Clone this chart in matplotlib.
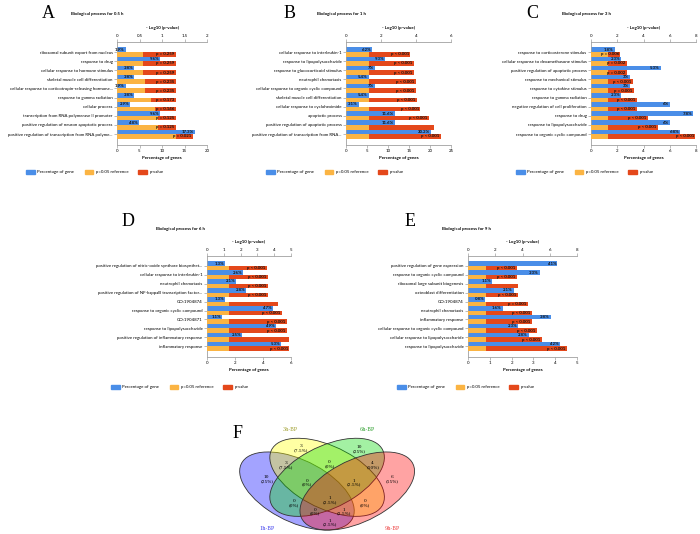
import numpy as np
import matplotlib
matplotlib.use("Agg")
import matplotlib.pyplot as plt
from matplotlib.patches import Ellipse, Patch

plt.rcParams['font.family'] = ['Lato', 'DejaVu Sans']

# ---------------- data ----------------
cats_a = ["ribosomal subunit export from nucleus", "response to drug",
          "cellular response to hormone stimulus", "skeletal muscle cell differentiation",
          "cellular response to corticotropin-releasing hormone...", "response to gamma radiation",
          "cellular process", "transcription from RNA polymerase II promoter",
          "positive regulation of neuron apoptotic process",
          "positive regulation of transcription from RNA polyme..."]
pct_a = [1.9, 9.6, 3.8, 3.8, 1.9, 3.8, 2.9, 9.6, 4.8, 17.3]
logp_a = [0.587, 0.587, 0.587, 0.629, 0.629, 0.762, 0.836, 0.903, 0.903, 1.678]
plab_a = ["p = 0.259", "p = 0.259", "p = 0.259", "p = 0.235", "p = 0.235",
          "p = 0.173", "p = 0.146", "p = 0.125", "p = 0.125", "p = 0.021"]

cats_b = ["cellular response to interleukin-1", "response to lipopolysaccharide",
          "response to glucocorticoid stimulus", "neutrophil chemotaxis",
          "cellular response to organic cyclic compound", "skeletal muscle cell differentiation",
          "cellular response to cycloheximide", "apoptotic process",
          "positive regulation of apoptotic process",
          "positive regulation of transcription from RNA..."]
pct_b = [6.2, 9.3, 7, 5.4, 7, 5.4, 3.1, 11.6, 11.6, 20.2]
logp_b = [3.68, 3.89, 3.89, 3.98, 3.98, 4.06, 4.25, 4.72, 5.05, 5.43]
plab_b = ["p < 0.001"] * 8 + ["", "p < 0.001"]

cats_c = ["response to corticosterone stimulus", "cellular response to dexamethasone stimulus",
          "positive regulation of apoptotic process", "response to mechanical stimulus",
          "response to cytokine stimulus", "response to gamma radiation",
          "negative regulation of cell proliferation", "response to drug",
          "response to lipopolysaccharide", "response to organic cyclic compound"]
pct_c = [1.8, 2.3, 5.3, 3, 3, 2.3, 6, 7.8, 6, 6.8]
logp_c = [2.24, 2.72, 2.76, 3.2, 3.3, 3.48, 3.5, 4.31, 5.08, 7.95]
plab_c = ["p = 0.006", "p = 0.002", "p = 0.002", "p < 0.001", "p = 0.001",
          "p < 0.001", "p < 0.001", "p < 0.001", "p < 0.001", "p < 0.001"]

cats_d = ["positive regulation of nitric-oxide synthase biosynthet...",
          "cellular response to interleukin-1", "neutrophil chemotaxis",
          "positive regulation of NF-kappaB transcription factor...", "GO:1904874",
          "response to organic cyclic compound", "GO:1904871",
          "response to lipopolysaccharide", "positive regulation of inflammatory response",
          "inflammatory response"]
pct_d = [1.3, 2.6, 2.1, 2.8, 1.3, 4.7, 1.1, 4.9, 2.5, 5.3]
logp_d = [3.57, 3.61, 3.61, 3.61, 4.2, 4.44, 4.76, 4.76, 4.9, 4.9]
plab_d = ["p < 0.001"] * 4 + [""] + ["p < 0.001"] * 3 + ["", "p < 0.001"]

cats_e = ["positive regulation of gene expression", "response to organic cyclic compound",
          "ribosomal large subunit biogenesis", "osteoblast differentiation", "GO:1904874",
          "neutrophil chemotaxis", "inflammatory response",
          "cellular response to organic cyclic compound",
          "cellular response to lipopolysaccharide", "response to lipopolysaccharide"]
pct_e = [4.1, 3.3, 1.1, 2.1, 0.8, 1.6, 3.8, 2.3, 2.8, 4.2]
logp_e = [3.62, 3.62, 3.65, 3.65, 4.43, 4.7, 4.7, 5.05, 5.4, 7.27]
plab_e = ["p < 0.001", "p < 0.001", "", "p < 0.001", "p = 0.001",
          "p < 0.001", "p < 0.001", "p < 0.001", "p < 0.001", "p < 0.001"]

legend_labels = ["Percentage of gene", "p=0.05 reference", "p-value"]

venn_sets = ["1h-BP", "3h-BP", "6h-BP", "9h-BP"]
venn_regions = ["1000", "0100", "0010", "0001", "1100", "0110", "0011",
                "1110", "0111", "1010", "1111", "0101", "1011", "1101", "1001"]
venn_counts = [10, 3, 10, 6, 3, 0, 4, 0, 1, 0, 1, 0, 0, 1, 1]

# ---------------- style ----------------
W, H = 700, 534
fig = plt.figure(figsize=(7, 5.34), dpi=100)
BLUE, ORANGE, RED = "#4a8ee8", "#fbb443", "#e4481b"
GRAY = "#a0a0a0"
FS = 3.2
REF = -np.log10(0.05)


def px_axes(x0, y0, x1, y1):
    return fig.add_axes([x0 / W, 1 - y1 / H, (x1 - x0) / W, (y1 - y0) / H])


def panel(box, cats, pct, logp, plab, plim, pticks, llim, lticks,
          title, title_xy, letter, letter_xy, leg_xy):
    ax = px_axes(*box)
    ax2 = ax.twiny()
    y = np.arange(len(cats))
    logp = np.asarray(logp, float)
    ax.barh(y - 0.25, pct, height=0.5, color=BLUE, zorder=2)
    org = np.minimum(logp, REF)
    ax2.barh(y + 0.25, org, height=0.5, color=ORANGE, zorder=2)
    ax2.barh(y + 0.25, np.abs(logp - REF), left=org, height=0.5, color=RED, zorder=2)
    pr = plim[1] - plim[0]
    lr = llim[1] - llim[0]
    for yi, v in zip(y, pct):
        ax.text(v - 0.01 * pr, yi - 0.25, f"{v:g}%", ha="right", va="center",
                fontsize=FS, fontweight="bold", color="#111111", zorder=4)
    for yi, v, s in zip(y, logp, plab):
        if s:
            ax2.text(max(v, REF) - 0.015 * lr, yi + 0.25, s, ha="right", va="center",
                     fontsize=FS, fontweight="bold", color="#111111", zorder=4)
    ax.set_yticks(y)
    ax.set_yticklabels(cats)
    ax.set_ylim(10.2, -1.1)
    ax.set_xlim(*plim)
    ax.set_xticks(pticks)
    ax2.set_xlim(*llim)
    ax2.set_xticks(lticks)
    ax2.set_xticklabels([f"{t:g}" for t in lticks])
    ax.set_xlabel("Percentage of genes", fontsize=FS, fontweight="bold", labelpad=2)
    ax2.set_xlabel("- Log10 (p-value)", fontsize=FS, fontweight="bold", labelpad=3)
    for a in (ax, ax2):
        for side, sp in a.spines.items():
            sp.set_color(GRAY)
            sp.set_linewidth(0.6)
        a.spines["right"].set_visible(False)
        a.tick_params(labelsize=FS, length=2, width=0.5, color=GRAY, pad=1.2)
    ax2.spines["left"].set_visible(False)
    ax2.spines["bottom"].set_visible(False)
    ax.spines["top"].set_visible(False)
    fig.text(title_xy[0] / W, 1 - title_xy[1] / H, title, fontsize=FS,
             fontweight="bold", ha="left", va="center")
    fig.text(letter_xy[0] / W, 1 - letter_xy[1] / H, letter, fontsize=13,
             family="Liberation Serif", ha="center", va="center")
    handles = [Patch(color=c, label=l) for c, l in zip((BLUE, ORANGE, RED), legend_labels)]
    fig.legend(handles=handles, loc="center", ncol=3, frameon=False,
               bbox_to_anchor=(leg_xy[0] / W, 1 - leg_xy[1] / H), fontsize=FS,
               handlelength=2.0, handleheight=1.0, handletextpad=0.5,
               columnspacing=2.3)


panel((117, 42, 207, 145), cats_a, pct_a, logp_a, plab_a, (0, 20), [0, 5, 10, 15, 20],
      (0, 2), [0, 0.5, 1, 1.5, 2], "Biological process for 0.5 h", (71, 14), "A", (48, 13), (95, 172))
panel((346, 42, 451, 145), cats_b, pct_b, logp_b, plab_b, (0, 25), [0, 5, 10, 15, 20, 25],
      (0, 6), [0, 2, 4, 6], "Biological process for 1 h", (317, 14), "B", (290, 13), (335, 172))
panel((591, 42, 696, 145), cats_c, pct_c, logp_c, plab_c, (0, 8), [0, 2, 4, 6, 8],
      (0, 8), [0, 2, 4, 6, 8], "Biological process for 3 h", (562, 14), "C", (532, 13), (585, 172))
panel((207, 256, 291, 357), cats_d, pct_d, logp_d, plab_d, (0, 6), [0, 2, 4, 6],
      (0, 5), [0, 1, 2, 3, 4, 5], "Biological process for 6 h", (156, 229), "D", (128, 221), (180, 387))
panel((468, 256, 577, 357), cats_e, pct_e, logp_e, plab_e, (0, 5), [0, 1, 2, 3, 4, 5],
      (0, 8), [0, 2, 4, 6, 8], "Biological process for 9 h", (442, 229), "E", (410, 221), (466, 387))

# ---------------- Venn ----------------
X0, XS = 226.6, 201.0   # px of x=0, px per unit
Y0, YS = 555.4, 137.0   # px of y=0, px per unit
ylo, yhi = 0.15, 0.92
vax = fig.add_axes([X0 / W, 1 - (Y0 - ylo * YS) / H, XS / W, (yhi - ylo) * YS / H])
vax.set_xlim(0, 1)
vax.set_ylim(ylo, yhi)
vax.axis("off")
ell = [((0.35, 0.47), 135, (0, 0, 1)), ((0.50, 0.57), 135, (1, 1, 0)),
       ((0.50, 0.57), 45, (0, 0.85, 0)), ((0.65, 0.47), 45, (1, 0, 0))]
for (c, ang, col) in ell:
    vax.add_patch(Ellipse(c, 0.70, 0.40, angle=ang, facecolor=col + (0.36,),
                          edgecolor="#333333", linewidth=0.6, clip_on=False))
region_px = {"1000": (266.7, 479.3), "0100": (300.7, 448.3), "0010": (359.3, 449.3),
             "0001": (391.7, 479.3), "1100": (286, 465), "0110": (329.3, 464),
             "0011": (372.7, 465), "1110": (306.7, 482.7), "0111": (354.3, 482.7),
             "1010": (294, 503.3), "1111": (330, 500), "0101": (365, 503.3),
             "1011": (315, 511.7), "1101": (344.3, 511.7), "1001": (330, 522.7)}
total = sum(venn_counts)
for code, n in zip(venn_regions, venn_counts):
    px, py = region_px[code]
    vax.text((px - X0) / XS, (Y0 - py) / YS, f"{n}\n({n / total * 100:g}%)",
             ha="center", va="center", fontsize=3.2, family="DejaVu Serif",
             linespacing=1.1, clip_on=False)
set_px = [(267, 528), (290, 429), (367, 429), (392, 528)]
set_col = ["#4444ee", "#a0a030", "#30a030", "#ee4444"]
for name, (px, py), col in zip(venn_sets, set_px, set_col):
    vax.text((px - X0) / XS, (Y0 - py) / YS, name, ha="center", va="center",
             fontsize=3.6, family="DejaVu Serif", color=col, clip_on=False)
fig.text(238 / W, 1 - 433 / H, "F", fontsize=13, family="Liberation Serif",
         ha="center", va="center")

fig.savefig("out.png", dpi=100)
